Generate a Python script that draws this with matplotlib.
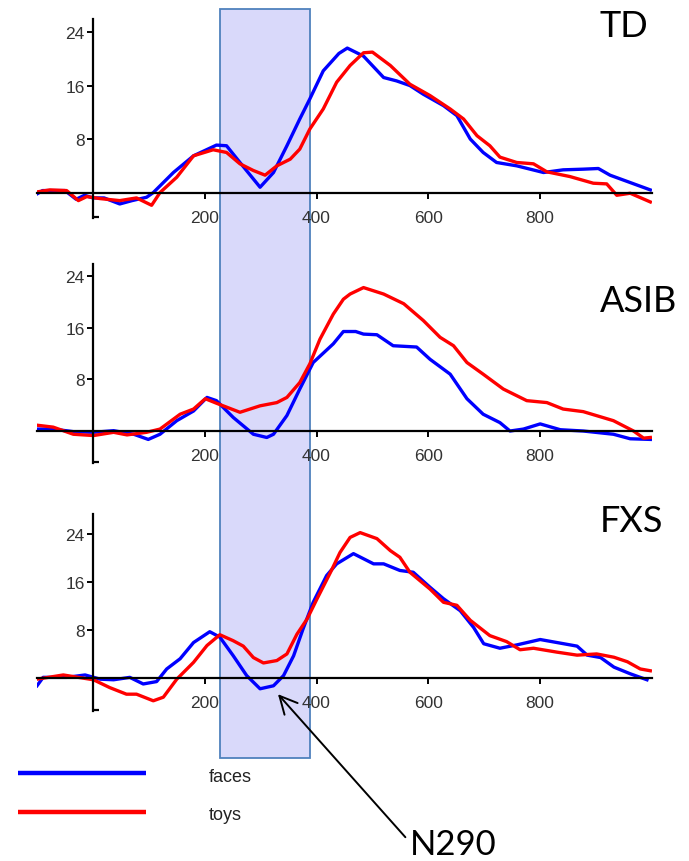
import matplotlib
matplotlib.use("Agg")
import matplotlib.pyplot as plt
from matplotlib.lines import Line2D
from matplotlib.patches import Rectangle
import matplotlib.transforms as mtransforms

# ERP waveforms (ms, microvolts)
td_faces_t = [-100, -90, -50, -30, -15, 0, 20, 48, 70, 96, 108, 144, 180, 221, 239, 263, 299, 323,
              347, 370, 388, 412, 440, 455, 484, 520, 543, 567, 591, 627, 651, 675, 698, 722, 758,
              806, 841, 877, 904, 925, 961, 997]
td_faces_v = [-0.2, 0.3, 0.3, -1.0, -0.4, -0.8, -0.8, -1.7, -1.2, -0.7, 0.0, 3.0, 5.5, 7.1, 7.0, 4.5,
              0.8, 3.0, 7.0, 11.0, 14.0, 18.2, 20.8, 21.6, 20.4, 17.2, 16.7, 16.0, 14.7, 13.0, 11.5,
              8.0, 6.0, 4.5, 4.0, 3.0, 3.4, 3.5, 3.6, 2.6, 1.5, 0.4]
td_toys_t = [-100, -77, -47, -26, -11, 13, 48, 78, 105, 120, 150, 180, 215, 239, 263, 287, 308, 329,
             353, 370, 388, 412, 436, 460, 484, 500, 532, 567, 603, 639, 663, 687, 710, 728, 758,
             788, 812, 853, 895, 919, 937, 961, 997]
td_toys_v = [0.1, 0.4, 0.3, -1.2, -0.6, -0.9, -1.2, -0.8, -1.9, 0.0, 2.3, 5.5, 6.4, 6.0, 4.3, 3.3,
             2.6, 4.0, 5.0, 6.5, 9.5, 12.5, 16.5, 19.0, 20.9, 21.0, 19.0, 16.2, 14.5, 12.5, 11.0,
             8.5, 7.0, 5.3, 4.5, 4.3, 3.1, 2.4, 1.4, 1.3, -0.4, -0.1, -1.4]

asib_faces_t = [-100, -71, -35, 1, 37, 73, 99, 120, 150, 180, 204, 221, 251, 287, 311, 323, 347,
                370, 394, 430, 448, 470, 484, 508, 537, 579, 603, 639, 669, 698, 728, 746, 770, 800,
                836, 877, 931, 961, 997]
asib_faces_v = [0.3, 0.3, -0.1, -0.2, 0.05, -0.5, -1.3, -0.5, 1.6, 3.1, 5.2, 4.7, 2.1, -0.5, -1.0,
                -0.5, 2.4, 6.5, 10.6, 13.5, 15.4, 15.4, 15.0, 14.9, 13.2, 13.0, 11.1, 8.8, 5.0, 2.6,
                1.3, 0.0, 0.3, 1.1, 0.2, 0.0, -0.5, -1.2, -1.3]
asib_toys_t = [-100, -71, -35, 1, 37, 61, 96, 120, 156, 180, 201, 221, 263, 299, 329, 347, 370, 388,
               406, 430, 448, 460, 484, 520, 556, 591, 621, 645, 669, 698, 734, 776, 812, 841, 877,
               931, 967, 985, 997]
asib_toys_v = [0.9, 0.6, -0.5, -0.7, -0.2, -0.6, -0.2, 0.3, 2.6, 3.4, 5.0, 4.3, 2.9, 3.9, 4.4, 5.2,
               7.5, 10.4, 14.2, 18.1, 20.4, 21.2, 22.2, 21.2, 19.7, 17.1, 14.5, 13.2, 10.6, 8.8,
               6.5, 4.7, 4.4, 3.4, 3.0, 1.6, 0.0, -1.1, -1.0]

fxs_faces_t = [-100, -89, -47, -14, 13, 37, 66, 90, 114, 132, 156, 180, 209, 227, 251, 275, 299,
               323, 341, 359, 376, 394, 418, 436, 466, 502, 520, 549, 573, 603, 627, 657, 681, 699,
               728, 758, 800, 836, 866, 884, 908, 932, 961, 991]
fxs_faces_v = [-1.3, 0.1, 0.1, 0.5, -0.2, -0.3, 0.1, -1.0, -0.6, 1.5, 3.2, 5.9, 7.7, 6.8, 3.7, 0.4,
               -1.8, -1.3, 0.4, 3.7, 8.2, 12.6, 17.05, 19.0, 20.7, 19.0, 19.0, 17.9, 17.6, 15.1,
               13.2, 11.2, 8.4, 5.7, 4.95, 5.5, 6.4, 5.8, 5.3, 3.8, 3.4, 1.8, 0.7, -0.3]
fxs_toys_t = [-100, -53, 1, 30, 60, 78, 108, 126, 150, 180, 204, 227, 251, 269, 287, 305, 329, 347,
              365, 383, 401, 425, 442, 460, 478, 508, 532, 549, 567, 603, 627, 651, 675, 710, 740,
              764, 788, 830, 866, 901, 932, 956, 979, 997]
fxs_toys_v = [-0.2, 0.5, -0.3, -1.6, -2.7, -2.7, -3.8, -3.2, -0.2, 2.6, 5.4, 7.2, 6.2, 5.3, 3.4,
              2.5, 2.9, 4.0, 7.3, 9.8, 13.2, 17.6, 20.9, 23.4, 24.2, 23.2, 21.2, 20.1, 17.6, 14.8,
              12.6, 12.1, 9.6, 7.05, 6.05, 4.7, 4.95, 4.3, 3.8, 4.0, 3.45, 2.7, 1.5, 1.2]

groups = ["TD", "ASIB", "FXS"]
conditions = ["faces", "toys"]
colors = {"faces": "#0000ff", "toys": "#ff0000"}
x_ticks = [200, 400, 600, 800]
y_ticks = [8, 16, 24]
n290_window = (227, 388)

waves = {
    "TD": {"faces": (td_faces_t, td_faces_v), "toys": (td_toys_t, td_toys_v)},
    "ASIB": {"faces": (asib_faces_t, asib_faces_v), "toys": (asib_toys_t, asib_toys_v)},
    "FXS": {"faces": (fxs_faces_t, fxs_faces_v), "toys": (fxs_toys_t, fxs_toys_v)},
}

W, H = 689, 862
fig = plt.figure(figsize=(W / 100, H / 100), dpi=100)
fig.patch.set_facecolor("white")

tick_font = ["Liberation Sans", "DejaVu Sans"]
label_font = ["Lato", "DejaVu Sans"]

# panel layout in pixels: (top, bottom), and y-limits per panel
panel_px = [(20, 219), (265, 464), (515, 712)]
panel_ylim = [(-3.8, 25.95), (-4.95, 25.85), (-5.5, 27.3)]
label_base_px = [37, 312, 532]

axes = []
for i, g in enumerate(groups):
    top, bot = panel_px[i]
    ax = fig.add_axes([37 / W, 1 - bot / H, 615 / W, (bot - top) / H])
    ax.set_facecolor("none")
    ax.set_xlim(-100, 1000)
    ax.set_ylim(*panel_ylim[i])

    for c in conditions:
        t, v = waves[g][c]
        ax.plot(t, v, color=colors[c], lw=2.4, solid_joinstyle="round", zorder=3)

    for s in ["top", "right"]:
        ax.spines[s].set_visible(False)
    ax.spines["left"].set_position(("data", 0))
    ax.spines["bottom"].set_position(("data", 0))
    ax.spines["left"].set_linewidth(1.6)
    ax.spines["bottom"].set_linewidth(1.6)
    ax.spines["left"].set_zorder(4)
    ax.spines["bottom"].set_zorder(4)

    # little foot at the bottom of the y axis
    trans = mtransforms.blended_transform_factory(ax.transData, ax.transAxes)
    ax.plot([0, 10], [0.004, 0.004], color="black", lw=1.6, transform=trans,
            clip_on=False, solid_capstyle="butt")

    ax.set_xticks(x_ticks)
    ax.set_xticklabels([str(x) for x in x_ticks], family=tick_font, fontsize=12.5,
                       color="#333333")
    ax.set_yticks(y_ticks)
    ax.set_yticklabels([str(y) for y in y_ticks], family=tick_font, fontsize=12.5,
                       color="#333333")
    ax.tick_params(axis="x", direction="out", length=4.5, width=1.4, pad=8)
    ax.tick_params(axis="y", direction="out", length=4.5, width=1.4, pad=1.5)

    fig.text(600 / W, 1 - label_base_px[i] / H, g, family=label_font, fontsize=26,
             ha="left", va="baseline", color="black")
    axes.append(ax)

# N290 window shaded across all panels
box_trans = mtransforms.blended_transform_factory(axes[0].transData, fig.transFigure)
box = Rectangle((n290_window[0], 1 - 759 / H), n290_window[1] - n290_window[0],
                (759 - 10) / H, transform=box_trans, facecolor="#d9d9fa",
                edgecolor="#4f81bd", lw=1.3, zorder=-1)
fig.patches.append(box)

# legend
for c, ypx, tpx in [("faces", 774, 782), ("toys", 813, 820)]:
    fig.add_artist(Line2D([18 / W, 146 / W], [1 - ypx / H, 1 - ypx / H], color=colors[c],
                          lw=3.2, solid_capstyle="butt"))
    fig.text(209 / W, 1 - tpx / H, c, family=["Liberation Sans Narrow", "Liberation Sans"],
             fontsize=13, ha="left", va="baseline", color="#222222")

# N290 arrow
axes[2].annotate("N290", xy=(331, -2.7), xycoords="data",
                 xytext=(410 / W, 1 - 855 / H), textcoords="figure fraction",
                 family=label_font, fontsize=25, ha="left", va="baseline",
                 annotation_clip=False,
                 arrowprops=dict(arrowstyle="->,head_length=0.9,head_width=0.45",
                                 color="black", lw=1.4, mutation_scale=14,
                                 relpos=(0, 0.55), shrinkA=2, shrinkB=0))

fig.savefig("out.png", dpi=100, facecolor="white")
